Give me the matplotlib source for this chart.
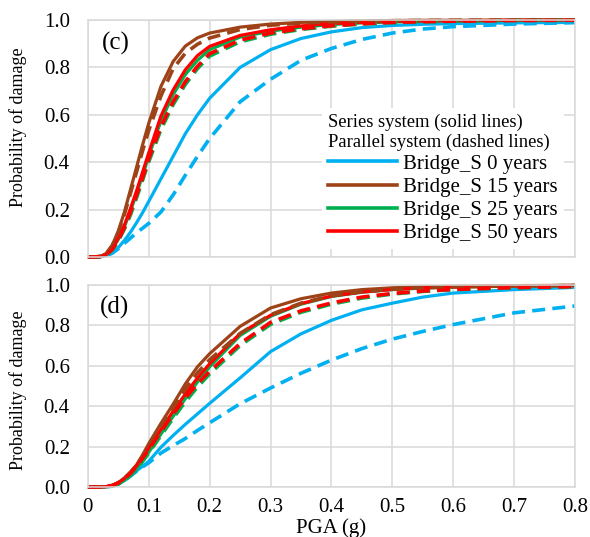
import matplotlib

matplotlib.use("Agg")
import matplotlib.pyplot as plt  # noqa: E402
from matplotlib.lines import Line2D  # noqa: E402

# --- Data (PGA in g, probability of damage) ---
pga = [0.0, 0.01, 0.02, 0.03, 0.04, 0.05, 0.06, 0.07, 0.08, 0.09, 0.10,
       0.12, 0.14, 0.16, 0.18, 0.20, 0.25, 0.30, 0.35, 0.40, 0.45, 0.50,
       0.55, 0.60, 0.70, 0.80]

# panel (c): series system (solid)
c_ser_0 = [0, 0, 0.001, 0.005, 0.018, 0.04, 0.07, 0.105, 0.145, 0.188, 0.235,
           0.33, 0.425, 0.52, 0.60, 0.67, 0.80, 0.875, 0.922, 0.95, 0.968, 0.977,
           0.982, 0.985, 0.988, 0.99]
c_ser_15 = [0, 0, 0.002, 0.015, 0.05, 0.11, 0.19, 0.285, 0.38, 0.475, 0.565,
            0.72, 0.825, 0.89, 0.925, 0.945, 0.97, 0.983, 0.99, 0.994, 0.996, 0.998,
            0.999, 0.999, 1.0, 1.0]
c_ser_25 = [0, 0, 0.002, 0.009, 0.033, 0.075, 0.128, 0.195, 0.268, 0.345, 0.425,
            0.575, 0.685, 0.77, 0.83, 0.875, 0.928, 0.953, 0.97, 0.981, 0.988, 0.992,
            0.995, 0.996, 0.998, 0.999]
c_ser_50 = [0, 0, 0.002, 0.01, 0.035, 0.08, 0.135, 0.205, 0.28, 0.36, 0.44,
            0.595, 0.705, 0.79, 0.85, 0.889, 0.935, 0.959, 0.975, 0.985, 0.99, 0.994,
            0.996, 0.997, 0.999, 1.0]
# panel (c): parallel system (dashed)
c_par_0 = [0, 0, 0.001, 0.005, 0.016, 0.035, 0.058, 0.08, 0.102, 0.122, 0.142,
           0.19, 0.262, 0.345, 0.425, 0.50, 0.655, 0.75, 0.83, 0.88, 0.918, 0.945,
           0.962, 0.972, 0.983, 0.989]
c_par_15 = [0, 0, 0.002, 0.014, 0.048, 0.105, 0.18, 0.27, 0.36, 0.45, 0.535,
            0.68, 0.795, 0.86, 0.898, 0.924, 0.96, 0.978, 0.987, 0.992, 0.995, 0.997,
            0.998, 0.999, 1.0, 1.0]
c_par_25 = [0, 0, 0.002, 0.008, 0.03, 0.068, 0.118, 0.178, 0.25, 0.325, 0.402,
            0.538, 0.643, 0.728, 0.795, 0.848, 0.908, 0.94, 0.96, 0.974, 0.983, 0.989,
            0.992, 0.995, 0.998, 0.999]
c_par_50 = [0, 0, 0.002, 0.009, 0.032, 0.072, 0.125, 0.19, 0.262, 0.335, 0.415,
            0.55, 0.655, 0.74, 0.805, 0.858, 0.915, 0.945, 0.963, 0.976, 0.984, 0.99,
            0.993, 0.995, 0.998, 0.999]

# panel (d): series system (solid)
d_ser_0 = [0, 0, 0, 0.001, 0.005, 0.015, 0.032, 0.055, 0.08, 0.103, 0.127,
           0.197, 0.255, 0.31, 0.362, 0.414, 0.54, 0.67, 0.758, 0.825, 0.877, 0.91,
           0.94, 0.96, 0.977, 0.988]
d_ser_15 = [0, 0, 0, 0.002, 0.008, 0.022, 0.045, 0.075, 0.11, 0.16, 0.215,
            0.315, 0.41, 0.51, 0.595, 0.66, 0.795, 0.886, 0.932, 0.96, 0.977, 0.986,
            0.991, 0.994, 0.997, 0.998]
d_ser_25 = [0, 0, 0, 0.001, 0.005, 0.015, 0.033, 0.058, 0.09, 0.13, 0.172,
            0.262, 0.35, 0.437, 0.52, 0.595, 0.75, 0.845, 0.905, 0.943, 0.964, 0.977,
            0.985, 0.99, 0.995, 0.998]
d_ser_50 = [0, 0, 0, 0.002, 0.007, 0.02, 0.042, 0.07, 0.105, 0.148, 0.192,
            0.285, 0.375, 0.46, 0.54, 0.61, 0.76, 0.85, 0.908, 0.945, 0.965, 0.978,
            0.986, 0.99, 0.995, 0.998]
# panel (d): parallel system (dashed)
d_par_0 = [0, 0, 0, 0.001, 0.005, 0.015, 0.032, 0.055, 0.078, 0.10, 0.12,
           0.168, 0.205, 0.24, 0.28, 0.318, 0.412, 0.49, 0.563, 0.628, 0.685, 0.732,
           0.77, 0.804, 0.862, 0.896]
d_par_15 = [0, 0, 0, 0.002, 0.008, 0.021, 0.043, 0.072, 0.107, 0.152, 0.203,
            0.30, 0.392, 0.485, 0.565, 0.63, 0.76, 0.853, 0.91, 0.947, 0.967, 0.979,
            0.986, 0.991, 0.995, 0.997]
d_par_25 = [0, 0, 0, 0.001, 0.005, 0.015, 0.033, 0.057, 0.088, 0.127, 0.168,
            0.255, 0.34, 0.422, 0.495, 0.56, 0.70, 0.805, 0.865, 0.905, 0.935, 0.955,
            0.968, 0.977, 0.986, 0.991]
d_par_50 = [0, 0, 0, 0.002, 0.007, 0.02, 0.041, 0.068, 0.102, 0.143, 0.185,
            0.275, 0.36, 0.44, 0.51, 0.573, 0.71, 0.815, 0.872, 0.911, 0.94, 0.958,
            0.97, 0.978, 0.987, 0.992]

ages = ["0", "15", "25", "50"]
colors = ["#00B0F0", "#9E4318", "#00B050", "#FF0000"]
x_ticks = [0, 0.1, 0.2, 0.3, 0.4, 0.5, 0.6, 0.7, 0.8]
x_tick_labels = ["0", "0.1", "0.2", "0.3", "0.4", "0.5", "0.6", "0.7", "0.8"]
y_ticks = [0, 0.2, 0.4, 0.6, 0.8, 1.0]
y_tick_labels = ["0.0", "0.2", "0.4", "0.6", "0.8", "1.0"]

plt.rcParams["font.family"] = ["Liberation Serif", "DejaVu Serif"]
GRID = "#D9D9D9"

fig = plt.figure(figsize=(5.9, 5.37), dpi=100)
ax_c = fig.add_axes([0.149, 0.5214, 0.8254, 0.4413])
ax_d = fig.add_axes([0.149, 0.0931, 0.8254, 0.3762])


def style(ax, show_x):
    ax.set_xlim(0, 0.8)
    ax.set_ylim(0, 1)
    ax.set_xticks(x_ticks)
    ax.set_yticks(y_ticks)
    ax.set_yticklabels(y_tick_labels)
    ax.set_xticklabels(x_tick_labels if show_x else [])
    ax.tick_params(length=0, labelsize=15, colors="black")
    ax.tick_params(axis="y", pad=13)
    ax.tick_params(axis="x", pad=8)
    ax.grid(True, color=GRID, lw=1.1)
    ax.set_axisbelow(True)
    for sp in ax.spines.values():
        sp.set_color(GRID)
        sp.set_linewidth(1.1)


def draw(ax, series, parallel):
    for ys, col in zip(series, colors):
        ax.plot(pga, ys, color=col, lw=2.3, solid_capstyle="butt", clip_on=False)
    for ys, col in zip(parallel, colors):
        ax.plot(pga, ys, color=col, lw=2.6, dashes=(3.6, 2.0),
                dash_capstyle="butt", clip_on=False)


style(ax_c, show_x=False)
style(ax_d, show_x=True)
draw(ax_c, [c_ser_0, c_ser_15, c_ser_25, c_ser_50],
     [c_par_0, c_par_15, c_par_25, c_par_50])
draw(ax_d, [d_ser_0, d_ser_15, d_ser_25, d_ser_50],
     [d_par_0, d_par_15, d_par_25, d_par_50])

ax_c.text(0.029, 0.903, "(c)", transform=ax_c.transAxes, fontsize=18, va="center")
ax_d.text(0.025, 0.89, "(d)", transform=ax_d.transAxes, fontsize=18, va="center")

handles = [Line2D([0], [0], color=c, lw=2.6) for c in colors]
labels = [f"Bridge_S {a} years" for a in ages]
leg = ax_c.legend(handles, labels, loc="upper left", bbox_to_anchor=(0.48, 0.63),
                  title="Series system (solid lines)\nParallel system (dashed lines)",
                  title_fontsize=13.4, fontsize=15, frameon=True, fancybox=False,
                  facecolor="white", edgecolor="none", framealpha=1,
                  handlelength=3.3, handletextpad=0.3, labelspacing=0.17,
                  borderpad=0.3, borderaxespad=0, alignment="left")
leg.get_title().set_linespacing(1.15)
leg.set_zorder(5)

fig.text(18 / 590, 1 - 127 / 537, "Probability of damage", rotation=90,
         ha="center", va="center", fontsize=13)
fig.text(18 / 590, 1 - 390 / 537, "Probability of damage", rotation=90,
         ha="center", va="center", fontsize=13)
fig.text(331.5 / 590, 1 - 518 / 537, "PGA (g)", ha="center", va="top", fontsize=15)

fig.savefig("out.png", dpi=100)
